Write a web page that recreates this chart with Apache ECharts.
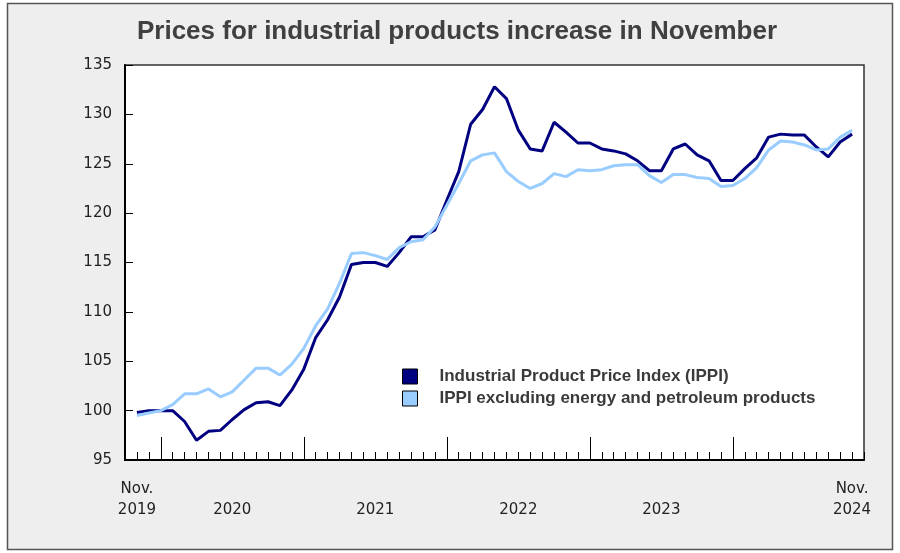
<!DOCTYPE html>
<html>
<head>
<meta charset="utf-8">
<script src="https://cdn.jsdelivr.net/npm/echarts@6/dist/echarts.min.js"></script>
<style>
html,body{margin:0;padding:0;background:#ffffff;}
#chart{width:900px;height:553px;}
</style>
</head>
<body>
<div id="chart"></div>
<script>
// Categories: Oct 2019 (padding) ... Dec 2024 (padding)
var months = [
 '2019-10','2019-11','2019-12',
 '2020-01','2020-02','2020-03','2020-04','2020-05','2020-06','2020-07','2020-08','2020-09','2020-10','2020-11','2020-12',
 '2021-01','2021-02','2021-03','2021-04','2021-05','2021-06','2021-07','2021-08','2021-09','2021-10','2021-11','2021-12',
 '2022-01','2022-02','2022-03','2022-04','2022-05','2022-06','2022-07','2022-08','2022-09','2022-10','2022-11','2022-12',
 '2023-01','2023-02','2023-03','2023-04','2023-05','2023-06','2023-07','2023-08','2023-09','2023-10','2023-11','2023-12',
 '2024-01','2024-02','2024-03','2024-04','2024-05','2024-06','2024-07','2024-08','2024-09','2024-10','2024-11','2024-12'
];

// Industrial Product Price Index (IPPI), Nov 2019 - Nov 2024
var ippi = [
 null,
 99.8, 100.0,
 100.0, 100.0, 98.9, 97.0, 97.9, 98.0, 99.1, 100.1, 100.8, 100.9, 100.5, 102.1,
 104.2, 107.4, 109.2, 111.5, 114.8, 115.0, 115.0, 114.6, 116.0, 117.6, 117.6, 118.3,
 121.3, 124.2, 129.0, 130.5, 132.8, 131.6, 128.4, 126.5, 126.3, 129.2, 128.2, 127.1,
 127.1, 126.5, 126.3, 126.0, 125.3, 124.3, 124.3, 126.5, 127.0, 125.9, 125.3, 123.3,
 123.3, 124.5, 125.6, 127.7, 128.0, 127.9, 127.9, 126.7, 125.7, 127.2, 128.0,
 null
];

// IPPI excluding energy and petroleum products
var ippiExEnergy = [
 null,
 99.5, 99.75,
 100.0, 100.6, 101.7, 101.7, 102.2, 101.4, 101.9, 103.1, 104.3, 104.3, 103.6, 104.7,
 106.3, 108.6, 110.3, 112.9, 115.9, 116.0, 115.7, 115.3, 116.5, 117.1, 117.3, 118.6,
 120.8, 123.0, 125.3, 125.9, 126.1, 124.2, 123.2, 122.5, 123.0, 124.0, 123.7, 124.4,
 124.3, 124.4, 124.8, 124.9, 124.9, 123.8, 123.1, 123.9, 123.9, 123.6, 123.5, 122.7,
 122.8, 123.5, 124.6, 126.4, 127.3, 127.2, 126.9, 126.4, 126.5, 127.7, 128.4,
 null
];

// x tick labels (category -> label)
var xTickLabels = {
 '2019-11': 'Nov.\n2019',
 '2020-07': '\n2020',
 '2021-07': '\n2021',
 '2022-07': '\n2022',
 '2023-07': '\n2023',
 '2024-11': 'Nov.\n2024'
};
var yearStartTicks = ['2020-01','2021-01','2022-01','2023-01','2024-01'];

var seriesNames = ['Industrial Product Price Index (IPPI)', 'IPPI excluding energy and petroleum products'];
var titleText = 'Prices for industrial products increase in November';

var chart = echarts.init(document.getElementById('chart'), null, {renderer: 'canvas'});

var option = {
  animation: false,
  backgroundColor: 'transparent',
  graphic: [
    {
      type: 'rect', z: -10, silent: true,
      shape: {x: 7.5, y: 3.5, width: 885, height: 546},
      style: {fill: '#eeeeee', stroke: '#555555', lineWidth: 1.5}
    },
    {
      type: 'text', z: 10,
      x: 457, y: 32,
      style: {
        text: titleText,
        textAlign: 'center', textVerticalAlign: 'middle',
        fontFamily: '"Liberation Sans", Arial, sans-serif',
        fontWeight: 'bold', fontSize: 26,
        fill: '#404040'
      }
    }
  ],
  grid: {
    left: 125, right: 36, top: 65, bottom: 93,
    show: true, backgroundColor: '#ffffff',
    borderColor: '#333333', borderWidth: 1.5
  },
  legend: {
    show: true,
    orient: 'vertical',
    left: 402, top: 368,
    padding: 0,
    icon: 'rect',
    itemWidth: 15, itemHeight: 15, itemGap: 5,
    itemStyle: {borderColor: '#000000', borderWidth: 1},
    textStyle: {
      fontFamily: '"Liberation Sans", Arial, sans-serif',
      fontWeight: 'bold', fontSize: 17, color: '#3a3a3a',
      lineHeight: 15,
      padding: [0, 0, 0, 17]
    },
    data: seriesNames
  },
  xAxis: [
    {
      type: 'category', data: months, boundaryGap: false,
      axisLine: {show: true, lineStyle: {color: '#000000', width: 2}},
      axisTick: {show: true, inside: true, length: 8, interval: 0, lineStyle: {color: '#000000', width: 1}},
      axisLabel: {
        show: true, interval: function (index, value) { return xTickLabels.hasOwnProperty(value); },
        formatter: function (value) { return xTickLabels[value] || ''; },
        margin: 19, lineHeight: 21,
        fontFamily: '"DejaVu Sans", Verdana, sans-serif', fontSize: 15, color: '#222222'
      },
      splitLine: {show: false}
    },
    {
      type: 'category', data: months, boundaryGap: false, position: 'bottom',
      axisLine: {show: false},
      axisTick: {show: true, inside: true, length: 23,
        interval: function (index, value) { return yearStartTicks.indexOf(value) >= 0; },
        lineStyle: {color: '#000000', width: 1}},
      axisLabel: {show: false},
      splitLine: {show: false}
    }
  ],
  yAxis: {
    type: 'value', min: 95, max: 135, interval: 5,
    axisLine: {show: true, lineStyle: {color: '#000000', width: 2}},
    axisTick: {show: true, inside: true, length: 8, lineStyle: {color: '#000000', width: 1}},
    axisLabel: {
      margin: 13, padding: [4, 0, 0, 0],
      fontFamily: '"DejaVu Sans", Verdana, sans-serif', fontSize: 15, color: '#222222'
    },
    splitLine: {show: false}
  },
  series: [
    {
      name: seriesNames[0], type: 'line', data: ippi,
      xAxisIndex: 0,
      showSymbol: false, symbol: 'none',
      lineStyle: {color: '#000080', width: 3},
      itemStyle: {color: '#000080'},
      z: 3
    },
    {
      name: seriesNames[1], type: 'line', data: ippiExEnergy,
      xAxisIndex: 0,
      showSymbol: false, symbol: 'none',
      lineStyle: {color: '#99ccff', width: 3},
      itemStyle: {color: '#99ccff'},
      z: 4
    }
  ]
};
chart.setOption(option);
</script>
</body>
</html>
